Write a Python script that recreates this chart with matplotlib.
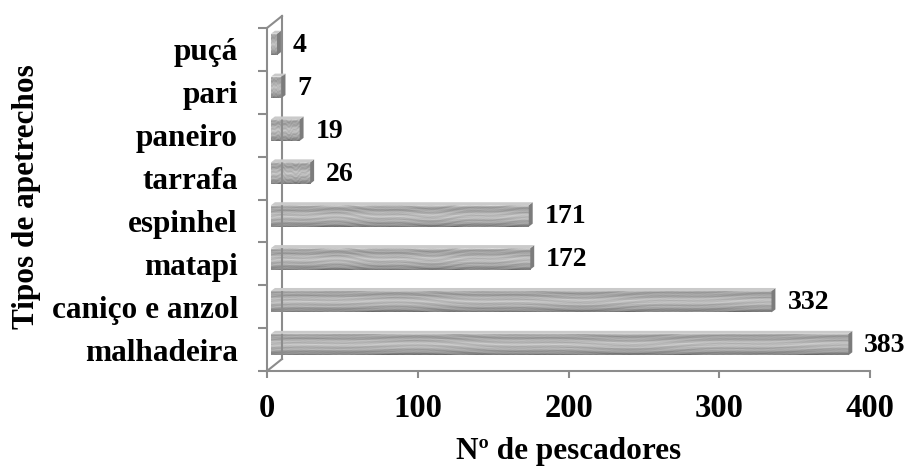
import numpy as np
import matplotlib
matplotlib.use('Agg')
import matplotlib.pyplot as plt
import matplotlib.transforms as mtransforms
from matplotlib.patches import Polygon

# Data
categorias = ['malhadeira', 'caniço e anzol', 'matapi', 'espinhel',
              'tarrafa', 'paneiro', 'pari', 'puçá']
pescadores = [383, 332, 172, 171, 26, 19, 7, 4]
x_ticks = [0, 100, 200, 300, 400]

plt.rcParams['font.family'] = ['Liberation Serif', 'DejaVu Serif']
plt.rcParams['font.weight'] = 'bold'

axis_gray = '#8c8c8c'

fig = plt.figure(figsize=(9.06, 4.68), dpi=100)
W, H = 906, 468
ax = fig.add_axes([267 / W, (H - 371) / H, (870 - 267) / W, (371 - 28) / H])
ax.set_xlim(0, 400)
ax.set_ylim(-0.5, len(categorias) - 0.5)

# grained grey texture stretched over each bar
rows = np.linspace(0, 1, 32)[:, None]
cols = np.linspace(0, 1, 420)[None, :]
shade = np.interp(rows, [0, 0.08, 0.2, 0.5, 0.8, 0.92, 1.0],
                  [0.82, 0.64, 0.62, 0.76, 0.64, 0.56, 0.48])
grain = (0.05 * np.sin(2 * np.pi * (5 * rows + 0.8 * np.sin(2 * np.pi * 1.3 * cols)
                                    + 0.3 * np.sin(2 * np.pi * 4.1 * cols + 1)))
         + 0.04 * np.sin(2 * np.pi * (13 * rows + 0.5 * np.sin(2 * np.pi * 2.7 * cols + 0.4)))
         + 0.03 * np.sin(2 * np.pi * (9 * rows + 7.3 * cols)) * np.sin(2 * np.pi * 11.7 * cols + 2)
         + 0.025 * np.sin(2 * np.pi * (21 * rows - 3.1 * cols + np.sin(2 * np.pi * 17.9 * cols))))
texture = np.clip(shade + grain, 0, 1)

# bars sit a little behind the front plane
bar_tr = mtransforms.offset_copy(ax.transData, fig=fig, x=4, y=5, units='dots')
ypos = np.arange(len(categorias))
h = 0.5
dx, dy = 2.6, 0.07
bars = ax.barh(ypos, pescadores, height=h, color='none', edgecolor='none',
               transform=bar_tr, zorder=2)
for y, v, patch in zip(ypos, pescadores, bars.patches):
    img = ax.imshow(texture, cmap='gray', vmin=0, vmax=1, aspect='auto',
                    extent=(0, v, y - h / 2, y + h / 2), transform=bar_tr,
                    interpolation='bilinear', zorder=2)
    img.set_clip_path(patch)
    side = Polygon([(v, y - h / 2), (v + dx, y - h / 2 + dy),
                    (v + dx, y + h / 2 + dy), (v, y + h / 2)],
                   closed=True, facecolor='#7c7c7c', edgecolor='none',
                   transform=bar_tr, zorder=3)
    top = Polygon([(0, y + h / 2), (dx, y + h / 2 + dy),
                   (v + dx, y + h / 2 + dy), (v, y + h / 2)],
                  closed=True, facecolor='#cacaca', edgecolor='none',
                  transform=bar_tr, zorder=3)
    ax.add_patch(side)
    ax.add_patch(top)

lbl_tr = mtransforms.offset_copy(ax.transData, fig=fig, x=16, y=4, units='dots')
for y, v in zip(ypos, pescadores):
    ax.text(v + dx, y, str(v), transform=lbl_tr, ha='left', va='center',
            fontsize=20, fontweight='bold', color='black')

# back wall of the 3D frame
wall = mtransforms.offset_copy(ax.transAxes, fig=fig, x=15, y=12, units='dots')
ax.plot([0, 0], [0, 1], color=axis_gray, lw=1.5, transform=wall, clip_on=False)
for yy in (0, 1):
    p0 = ax.transAxes.transform((0, yy))
    p1 = wall.transform((0, yy))
    ax.plot([p0[0], p1[0]], [p0[1], p1[1]], color=axis_gray, lw=1.5,
            transform=None, clip_on=False)

for s in ('top', 'right'):
    ax.spines[s].set_visible(False)
for s in ('left', 'bottom'):
    ax.spines[s].set_color(axis_gray)
    ax.spines[s].set_linewidth(1.5)

ax.set_xticks(x_ticks)
ax.set_xticklabels([str(t) for t in x_ticks])
ax.tick_params(axis='x', direction='out', length=5, width=1.5, color=axis_gray,
               pad=11, labelsize=23.5)
ax.set_yticks(np.arange(-0.5, len(categorias), 1))
ax.set_yticklabels([])
ax.tick_params(axis='y', which='major', direction='out', length=6.5, width=1.5,
               color=axis_gray)
ax.set_yticks(ypos, minor=True)
ax.set_yticklabels(categorias, minor=True)
ax.tick_params(axis='y', which='minor', length=0, pad=21, labelsize=22.5)
for t in ax.get_xticklabels() + ax.get_yticklabels(minor=True):
    t.set_fontweight('bold')

fig.text(568.5 / W, (H - 459) / H, 'Nº de pescadores', ha='center', va='baseline',
         fontsize=22.5, fontweight='bold')
fig.text(27 / W, (H - 197) / H, 'Tipos de apetrechos', ha='center', va='center',
         rotation=90, fontsize=22.5, fontweight='bold')

fig.savefig('out.png', dpi=100, facecolor='white')
